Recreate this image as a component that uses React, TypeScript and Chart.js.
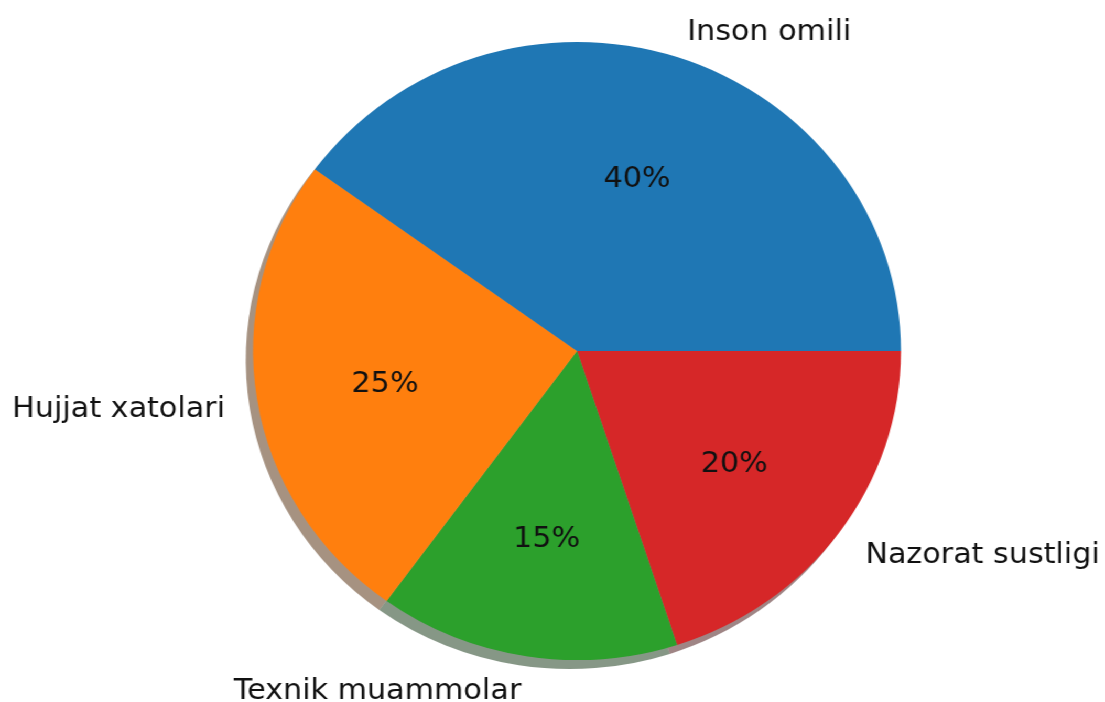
import React, { useEffect, useRef } from "react";
import { Chart, registerables } from "chart.js";

Chart.register(...registerables);

const labels = ["Inson omili", "Hujjat xatolari", "Texnik muammolar", "Nazorat sustligi"];
const values = [40, 25, 15, 20];
const colors = ["#1f77b4", "#ff7f0e", "#2ca02c", "#d62728"];

const STRETCH = 1105 / 1054;
const W = 1054;
const H = 702;
const FONT = "28.8px 'DejaVu Sans', sans-serif";
const TEXT_DY = 5;

function hexToRgb(hex: string) {
  const n = parseInt(hex.slice(1), 16);
  return [(n >> 16) & 255, (n >> 8) & 255, n & 255];
}

const piePlugin = {
  id: "mplPie",
  beforeDatasetsDraw(chart: any) {
    const meta = chart.getDatasetMeta(0);
    const ctx = chart.ctx;
    const bg = chart.data.datasets[0].backgroundColor as string[];
    ctx.save();
    meta.data.forEach((arc: any, i: number) => {
      const p = arc.getProps(["x", "y", "startAngle", "endAngle", "outerRadius"], true);
      const [r, g, b] = hexToRgb(bg[i]);
      const ox = -7;
      const oy = 9;
      ctx.beginPath();
      ctx.moveTo(p.x + ox, p.y + oy);
      ctx.arc(p.x + ox, p.y + oy, p.outerRadius, p.startAngle, p.endAngle);
      ctx.closePath();
      ctx.fillStyle = `rgba(${Math.round(r * 0.3)},${Math.round(g * 0.3)},${Math.round(b * 0.3)},0.5)`;
      ctx.fill();
    });
    ctx.restore();
  },
  afterDatasetsDraw(chart: any) {
    const meta = chart.getDatasetMeta(0);
    const ctx = chart.ctx;
    const data = chart.data.datasets[0].data as number[];
    const lbls = chart.data.labels as string[];
    const total = data.reduce((a, b) => a + b, 0);
    ctx.save();
    ctx.font = FONT;
    ctx.fillStyle = "#111";
    ctx.textBaseline = "middle";
    meta.data.forEach((arc: any, i: number) => {
      const p = arc.getProps(["x", "y", "startAngle", "endAngle", "outerRadius"], true);
      const mid = (p.startAngle + p.endAngle) / 2;
      const c = Math.cos(mid);
      const s = Math.sin(mid);
      ctx.textAlign = "center";
      ctx.fillText(
        `${Math.round((data[i] / total) * 100)}%`,
        p.x + c * p.outerRadius * 0.6,
        p.y + s * p.outerRadius * 0.6 + TEXT_DY
      );
      ctx.textAlign = c > 0 ? "left" : "right";
      ctx.fillText(lbls[i], p.x + c * p.outerRadius * 1.1, p.y + s * p.outerRadius * 1.1 + TEXT_DY);
    });
    ctx.restore();
  },
};

export default function App() {
  const ref = useRef<HTMLCanvasElement | null>(null);
  useEffect(() => {
    document.body.style.margin = "0";
    document.body.style.overflow = "hidden";
    if (!ref.current) return;
    const order = [3, 2, 1, 0];
    const chart = new Chart(ref.current, {
      type: "pie",
      data: {
        labels: order.map((i) => labels[i]),
        datasets: [
          {
            data: order.map((i) => values[i]),
            backgroundColor: order.map((i) => colors[i]),
            borderWidth: 0,
            hoverOffset: 0,
            hoverBorderWidth: 0,
            offset: 0,
            radius: 309,
          } as any,
        ],
      },
      options: {
        animation: false,
        responsive: true,
        maintainAspectRatio: false,
        rotation: 90,
        layout: { padding: { left: 241.4, right: 194.6, top: 42, bottom: 42 } },
        plugins: { legend: { display: false }, tooltip: { enabled: false } },
        events: [],
      },
      plugins: [piePlugin],
    });
    return () => chart.destroy();
  }, []);
  return (
    <div
      style={{
        width: W,
        height: H,
        transform: `scaleX(${STRETCH})`,
        transformOrigin: "0 0",
        background: "#fff",
      }}
    >
      <canvas ref={ref} />
    </div>
  );
}
